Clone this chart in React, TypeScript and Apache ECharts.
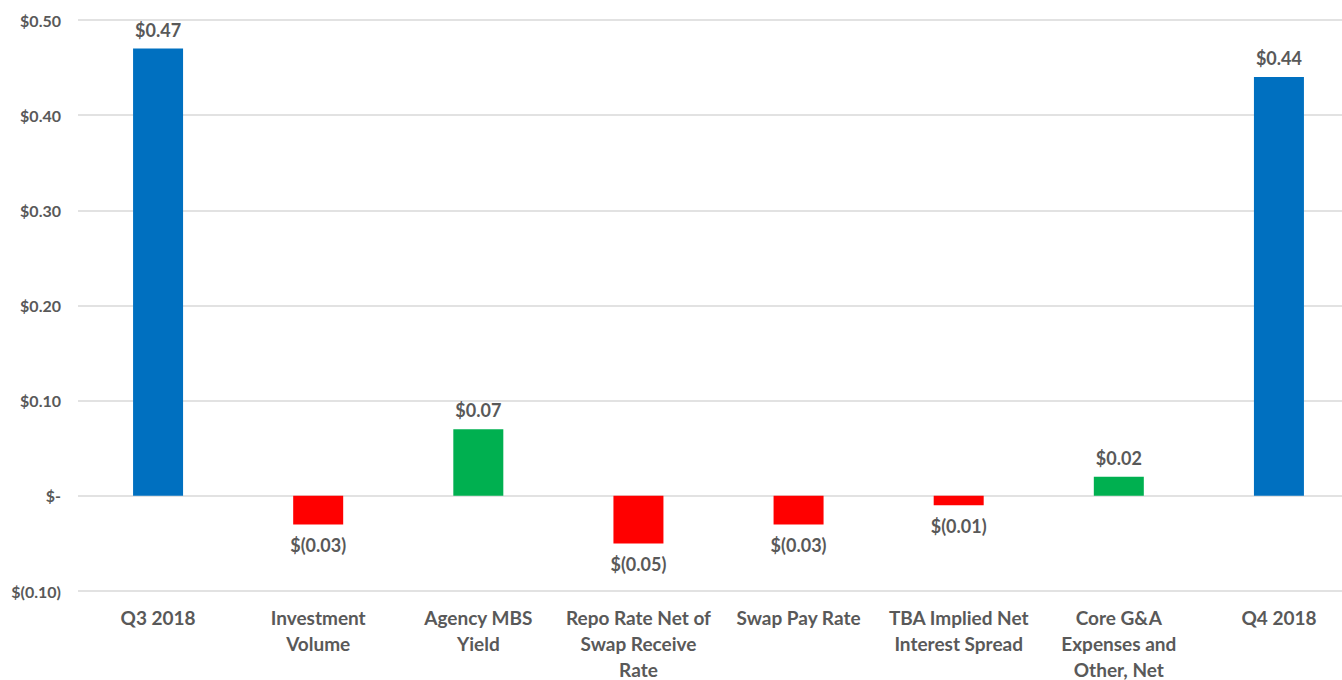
import React, { useEffect, useRef } from "react";
import * as echarts from "echarts";

const categories = [
  "Q3 2018",
  "Investment\nVolume",
  "Agency MBS\nYield",
  "Repo Rate Net of\nSwap Receive\nRate",
  "Swap Pay Rate",
  "TBA Implied Net\nInterest Spread",
  "Core G&A\nExpenses and\nOther, Net",
  "Q4 2018",
];
const values = [0.47, -0.03, 0.07, -0.05, -0.03, -0.01, 0.02, 0.44];
const barKinds = ["total", "change", "change", "change", "change", "change", "change", "total"];
const yTicks = { min: -0.1, max: 0.5, interval: 0.1 };

const BLUE = "#0070C0";
const RED = "#FF0000";
const GREEN = "#00B050";
const TEXT = "#595959";
const FONT = "Lato, 'Open Sans', sans-serif";

function fmt(v: number): string {
  const r = Math.round(v * 100) / 100;
  if (Math.abs(r) < 1e-9) return "$-";
  if (r < 0) return `$(${Math.abs(r).toFixed(2)})`;
  return `$${r.toFixed(2)}`;
}

export default function App() {
  const ref = useRef<HTMLDivElement>(null);
  useEffect(() => {
    if (!ref.current) return;
    const chart = echarts.init(ref.current, undefined, { renderer: "svg" });
    const data = values.map((v, i) => ({
      value: v,
      itemStyle: { color: barKinds[i] === "total" ? BLUE : v < 0 ? RED : GREEN },
      label: v < 0 ? { position: "bottom", distance: 12 } : { position: "top", distance: 10 },
    }));
    chart.setOption({
      animation: false,
      backgroundColor: "#ffffff",
      grid: {
        left: 78,
        top: 20,
        width: 1281,
        height: 571,
        containLabel: false,
        outerBoundsMode: "none",
      },
      xAxis: {
        type: "category",
        data: categories,
        axisLine: { show: false },
        axisTick: { show: false },
        axisLabel: {
          color: TEXT,
          fontFamily: FONT,
          fontWeight: "bold",
          fontSize: 19,
          lineHeight: 26,
          margin: 13,
          interval: 0,
        },
      },
      yAxis: {
        type: "value",
        min: yTicks.min,
        max: yTicks.max,
        interval: yTicks.interval,
        axisLine: { show: false },
        axisTick: { show: false },
        splitLine: { lineStyle: { color: "#d9d9d9", width: 1.5 } },
        axisLabel: {
          color: TEXT,
          fontFamily: FONT,
          fontWeight: "bold",
          fontSize: 16,
          margin: 17,
          formatter: (v: number) => fmt(v),
        },
      },
      series: [
        {
          type: "bar",
          data,
          barWidth: 50,
          label: {
            show: true,
            color: TEXT,
            fontFamily: FONT,
            fontWeight: "bold",
            fontSize: 18,
            formatter: (p: any) => fmt(p.value),
          },
        },
      ],
    });
    return () => chart.dispose();
  }, []);
  return (
    <div
      ref={ref}
      style={{ position: "fixed", left: 0, top: 0, width: 1342, height: 680 }}
    />
  );
}
